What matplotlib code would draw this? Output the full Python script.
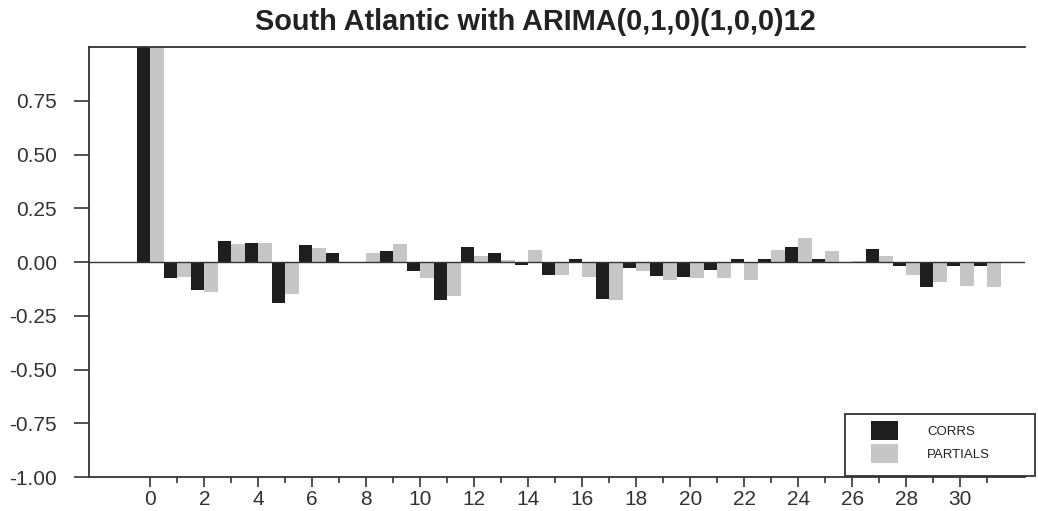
import matplotlib
matplotlib.use("Agg")
import matplotlib.pyplot as plt
from matplotlib.patches import Rectangle
import numpy as np

# lags and autocorrelations
lags = list(range(0, 33))
corrs = [1.0, -0.075, -0.13, 0.10, 0.09, -0.19, 0.077, 0.043, 0.0, 0.05,
         -0.04, -0.175, 0.07, 0.043, -0.012, -0.062, 0.015, -0.17, -0.027, -0.065,
         -0.07, -0.035, 0.015, 0.015, 0.07, 0.015, 0.0, 0.06, -0.02, -0.115,
         -0.02, -0.02, 0.0]
partials = [1.0, -0.07, -0.14, 0.085, 0.09, -0.15, 0.066, 0.0, 0.043, 0.085,
            -0.075, -0.16, 0.026, 0.01, 0.058, -0.062, -0.07, -0.175, -0.04, -0.085,
            -0.075, -0.075, -0.083, 0.058, 0.11, 0.05, 0.005, 0.028, -0.06, -0.095,
            -0.11, -0.115, 0.0]
xtick_labels = [str(v) for v in range(0, 31, 2)]
ytick_vals = [-1.0, -0.75, -0.5, -0.25, 0.0, 0.25, 0.5, 0.75]

plt.rcParams['font.family'] = ['Liberation Sans', 'DejaVu Sans']
W, H = 1038, 511

fig = plt.figure(figsize=(W / 100, H / 100), dpi=100)
ax = fig.add_axes([89 / W, 1 - 477 / H, (1025 - 89) / W, (477 - 47) / H])

x = np.array(lags)
w = 0.5
ax.bar(x - w / 2, corrs, width=w, color='#1e1e1e', label='CORRS')
ax.bar(x + w / 2, partials, width=w, color='#c6c6c6', label='PARTIALS')
ax.axhline(0, color='#333333', lw=1)

ax.set_xlim(-2.27, 32.4)
ax.set_ylim(-1.0, 1.0)
ax.set_yticks(ytick_vals)
ax.set_yticklabels([f"{v:.2f}" for v in ytick_vals], fontsize=15, color='#333333')
ax.set_xticks(range(0, 31, 2))
ax.set_xticklabels(xtick_labels, fontsize=15, color='#333333')
ax.set_xticks(range(1, 32, 2), minor=True)
ax.tick_params(axis='y', which='major', length=11, width=1.2, color='#333333', pad=12)
ax.tick_params(axis='x', which='major', length=7, width=1.2, color='#333333', pad=2)
ax.tick_params(axis='x', which='minor', length=4, width=1.2, color='#333333')
ax.spines['right'].set_visible(False)
for s in ['left', 'bottom', 'top']:
    ax.spines[s].set_color('#333333')
    ax.spines[s].set_linewidth(1.3)

fig.text(535 / W, 1 - 22 / H, 'South Atlantic with ARIMA(0,1,0)(1,0,0)12',
         fontsize=20.8, fontweight='bold', color='#222222', ha='center', va='center')

# legend box drawn by hand, entries placed inside it
fig.patches.append(Rectangle((845 / W, 1 - 476 / H), 190 / W, 62 / H,
                             transform=fig.transFigure, fill=False,
                             ec='#333333', lw=1.3))
leg = ax.legend(loc='upper left', bbox_to_anchor=(871 / W, 1 - 421 / H),
                bbox_transform=fig.transFigure, fontsize=9.5, frameon=False,
                handlelength=2.05, handleheight=1.85, borderpad=0,
                labelspacing=0.3, handletextpad=2.2, borderaxespad=0)
for t in leg.get_texts():
    t.set_color('#222222')

fig.savefig('out.png', dpi=100)
